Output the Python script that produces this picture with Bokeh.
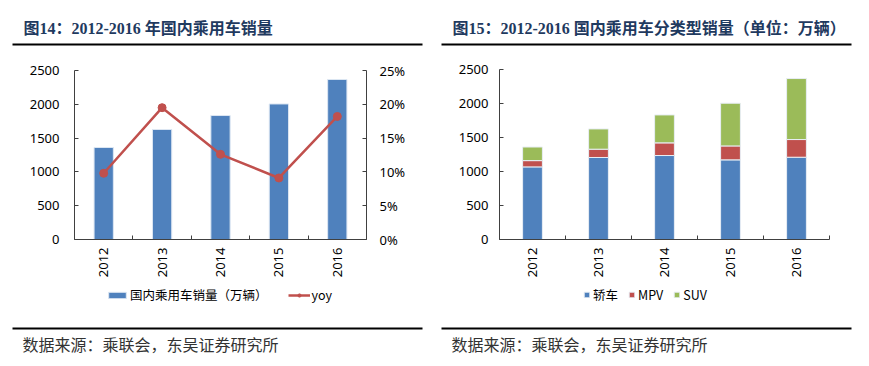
import math
from bokeh.plotting import figure
from bokeh.models import (Range1d, LinearAxis, FixedTicker, NumeralTickFormatter, Label,
                          BoxAnnotation, Legend, LegendItem, ColumnDataSource)
from bokeh.layouts import row
from bokeh.embed import file_html
from bokeh.resources import INLINE

# ---------------- data ----------------
years = ["2012", "2013", "2014", "2015", "2016"]
sales = [1361, 1627, 1834, 2005, 2367]          # 国内乘用车销量（万辆）
yoy = [0.098, 0.195, 0.126, 0.091, 0.182]       # yoy
sedan = [1068, 1206, 1235, 1171, 1210]          # 轿车
mpv = [92, 122, 186, 205, 260]                  # MPV
suv = [200, 298, 411, 628, 897]                 # SUV
left_ticks = [0, 500, 1000, 1500, 2000, 2500]
pct_ticks = [0, 0.05, 0.10, 0.15, 0.20, 0.25]

title1 = "图14：2012-2016 年国内乘用车销量"
title2 = "图15：2012-2016 国内乘用车分类型销量（单位：万辆）"
source_txt = "数据来源：乘联会，东吴证券研究所"

BLUE, RED, GREEN = "#4F81BD", "#C0504D", "#9BBB59"
AXIS = "#404040"
NAVY = "#1F3A5F"
TICK_FONT = "Noto Sans"
CJK = "Noto Sans CJK SC"
TITLE_FONT = "Liberation Serif, Noto Sans CJK SC"

H = 366
N = len(years)
centers = [i + 0.5 for i in range(N)]
bounds = [i for i in range(N + 1)]
overrides = {c: y for c, y in zip(centers, years)}


def span_range(lo, hi, px_lo, px_hi, px_total):
    """Range whose [lo, hi] lands on pixels [px_lo, px_hi] of a px_total-long frame."""
    per = (hi - lo) / (px_hi - px_lo)
    return Range1d(lo - px_lo * per, hi + (px_total - px_hi) * per)


def style_x_axis(ax):
    ax.ticker = FixedTicker(ticks=centers, minor_ticks=bounds)
    ax.major_label_overrides = overrides
    ax.major_label_orientation = math.pi / 2
    ax.major_tick_in = 0
    ax.major_tick_out = 0
    ax.minor_tick_in = 4
    ax.minor_tick_out = 0
    ax.minor_tick_line_color = AXIS
    ax.axis_line_color = AXIS
    ax.major_label_text_font = TICK_FONT
    ax.major_label_text_font_size = "13px"
    ax.major_label_text_color = "#000000"
    ax.major_label_standoff = 8
    ax.bounds = (0, N)
    ax.fixed_location = 0


def style_y_axis(ax, standoff, loc, bnds):
    ax.major_tick_in = 4
    ax.major_tick_out = 0
    ax.minor_tick_line_color = None
    ax.axis_line_color = AXIS
    ax.major_tick_line_color = AXIS
    ax.major_label_text_font = TICK_FONT
    ax.major_label_text_font_size = "13px"
    ax.major_label_text_color = "#000000"
    ax.major_label_standoff = standoff
    ax.bounds = bnds
    ax.fixed_location = loc


def decorate(p, title, text_x, rule_l, rule_r):
    p.add_layout(Label(x=text_x, y=H - 28, x_units="screen", y_units="screen",
                       text=title, text_font=TITLE_FONT, text_font_style="bold",
                       text_font_size="16px", text_color=NAVY, text_baseline="middle"))
    p.add_layout(BoxAnnotation(left=rule_l, right=rule_r, bottom=H - 45, top=H - 43,
                               left_units="screen", right_units="screen",
                               bottom_units="screen", top_units="screen",
                               fill_color="#000000", fill_alpha=1, line_color=None))
    p.add_layout(BoxAnnotation(left=rule_l, right=rule_r, bottom=H - 329, top=H - 327,
                               left_units="screen", right_units="screen",
                               bottom_units="screen", top_units="screen",
                               fill_color="#000000", fill_alpha=1, line_color=None))
    p.add_layout(Label(x=text_x - 1, y=H - 343, x_units="screen", y_units="screen",
                       text=source_txt, text_font=CJK,
                       text_font_size="16px", text_color="#333333", text_baseline="middle"))


def base_fig(w, fl, fr, ft, fb, ymax):
    p = figure(width=w, height=H, output_backend="svg", toolbar_location=None,
               x_range=span_range(0, N, fl, fr, w),
               y_range=span_range(0, ymax, H - fb, H - ft, H),
               min_border=0)
    p.outline_line_color = None
    p.xgrid.visible = False
    p.ygrid.visible = False
    return p


# ---------------- left chart ----------------
W1, FL1, FR1, FT1, FB1 = 434, 74, 366, 70, 239
p1 = base_fig(W1, FL1, FR1, FT1, FB1, 2500)
p1.extra_y_ranges = {"pct": span_range(0, 0.25, H - FB1, H - FT1, H)}

src1 = ColumnDataSource(dict(x=centers, sales=sales, yoy=yoy))
bars = p1.vbar(x="x", top="sales", width=0.33, source=src1, fill_color=BLUE,
               line_color="#DCE6F2", line_width=1)
ln = p1.line(x="x", y="yoy", source=src1, y_range_name="pct", line_color=RED, line_width=2.5)
mk = p1.scatter(x="x", y="yoy", source=src1, y_range_name="pct", size=8,
                fill_color=RED, line_color=RED)

style_x_axis(p1.xaxis[0])
p1.yaxis[0].ticker = FixedTicker(ticks=left_ticks)
style_y_axis(p1.yaxis[0], 15, 0, (0, 2500))
rax = LinearAxis(y_range_name="pct", ticker=FixedTicker(ticks=pct_ticks),
                 formatter=NumeralTickFormatter(format="0%"))
style_y_axis(rax, 13, N, (0, 0.25))
p1.add_layout(rax, "right")

leg1 = Legend(items=[LegendItem(label="国内乘用车销量（万辆）", renderers=[bars]),
                     LegendItem(label="yoy", renderers=[ln, mk])],
              location=(106, H - 304), orientation="horizontal",
              glyph_width=22, glyph_height=8, label_standoff=2, spacing=20,
              padding=0, margin=0, border_line_color=None, background_fill_alpha=0,
              label_text_font=CJK, label_text_font_size="12.5px", label_text_color="#000000",
              label_height=14, label_width=0)
p1.add_layout(leg1)
decorate(p1, title1, 23, 12, 422)

# ---------------- right chart ----------------
W2, FL2, FR2, FT2, FB2 = 435, 65, 395, 69, 239
p2 = base_fig(W2, FL2, FR2, FT2, FB2, 2500)

src2 = ColumnDataSource(dict(x=centers, sedan=sedan, mpv=mpv, suv=suv))
stack = p2.vbar_stack(["sedan", "mpv", "suv"], x="x", width=0.3, source=src2,
                      fill_color=[BLUE, RED, GREEN], line_color="#E8EEF4", line_width=1)
style_x_axis(p2.xaxis[0])
p2.yaxis[0].ticker = FixedTicker(ticks=left_ticks)
style_y_axis(p2.yaxis[0], 11, 0, (0, 2500))

leg2 = Legend(items=[LegendItem(label="轿车", renderers=[stack[0]]),
                     LegendItem(label="MPV", renderers=[stack[1]]),
                     LegendItem(label="SUV", renderers=[stack[2]])],
              location=(149, H - 304), orientation="horizontal",
              glyph_width=7, glyph_height=7, label_standoff=3, spacing=10,
              padding=0, margin=0, border_line_color=None, background_fill_alpha=0,
              label_text_font=CJK, label_text_font_size="12.5px", label_text_color="#000000",
              label_height=14, label_width=0)
p2.add_layout(leg2)
decorate(p2, title2, 18, 7, 417)

layout = row(p1, p2)
open("out.html", "w").write(file_html(layout, INLINE))
